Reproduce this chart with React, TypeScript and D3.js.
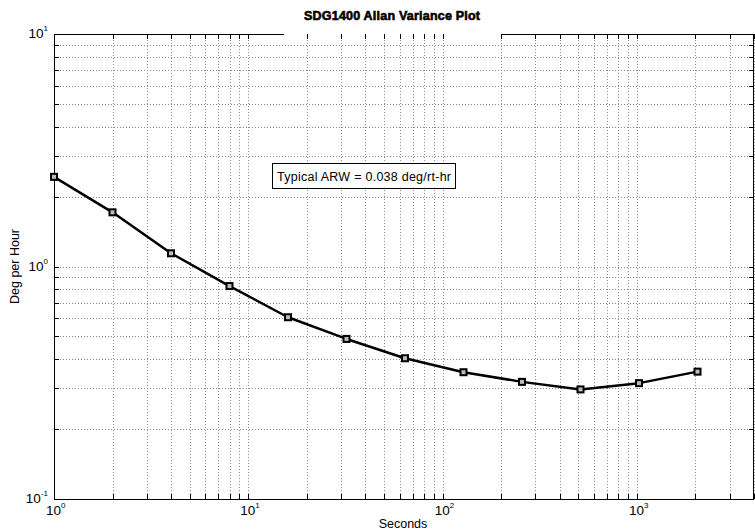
import React, { useEffect, useRef } from "react";
import * as d3 from "d3";

const seconds = [1, 2, 4, 8, 16, 32, 64, 128, 256, 512, 1024, 2048];
const degPerHour = [2.43, 1.71, 1.14, 0.824, 0.605, 0.488, 0.403, 0.351, 0.319, 0.296, 0.315, 0.353];
const xDecades = [0, 1, 2, 3];
const yDecades = [-1, 0, 1];
const titleText = "SDG1400 Allan Variance Plot";
const noteText = "Typical ARW = 0.038 deg/rt-hr";

const W = 755;
const H = 531;
const m = { left: 54, top: 34, right: 1, bottom: 32 };
const font = "Arial, 'Liberation Sans', Helvetica, sans-serif";

const drawChart = (svgEl: SVGSVGElement) => {
  const svg = d3.select(svgEl);
  svg.selectAll("*").remove();

  const x = d3.scaleLog().domain([1, 4000]).range([m.left, W - m.right]);
  const y = d3.scaleLog().domain([0.1, 10]).range([H - m.bottom, m.top]);
  const [x0, x1] = x.range();
  const [y0, y1] = y.range(); // y0 bottom, y1 top

  svg.append("rect").attr("width", W).attr("height", H).attr("fill", "#fff");

  // tick values (major + minor)
  const xTicks: number[] = [];
  for (let d = 0; d <= 3; d++) for (let k = 1; k <= 9; k++) {
    const v = k * Math.pow(10, d);
    if (v <= 4000) xTicks.push(v);
  }
  const yTicks: number[] = [];
  for (let d = -1; d <= 0; d++) for (let k = 1; k <= 9; k++) yTicks.push(k * Math.pow(10, d));
  yTicks.push(10);

  const grid = svg.append("g").attr("stroke", "#8a8a8a").attr("stroke-dasharray", "1 2").attr("stroke-width", 1);
  grid.selectAll(".gx").data(xTicks.filter((v) => v > 1)).enter().append("line")
    .attr("x1", (d) => Math.round(x(d)) + 0.5).attr("x2", (d) => Math.round(x(d)) + 0.5)
    .attr("y1", y1).attr("y2", y0);
  grid.selectAll(".gy").data(yTicks.filter((v) => v > 0.1 && v < 10)).enter().append("line")
    .attr("y1", (d) => Math.round(y(d)) + 0.5).attr("y2", (d) => Math.round(y(d)) + 0.5)
    .attr("x1", x0).attr("x2", x1);

  // box, with the top border broken behind the title
  const box = svg.append("g").attr("stroke", "#000").attr("stroke-width", 1).attr("fill", "none");
  box.append("line").attr("x1", x0 + 0.5).attr("x2", x0 + 0.5).attr("y1", y1).attr("y2", y0 + 0.5);
  box.append("line").attr("x1", x1 - 0.5).attr("x2", x1 - 0.5).attr("y1", y1).attr("y2", y0 + 0.5);
  box.append("line").attr("x1", x0).attr("x2", x1).attr("y1", y0 + 0.5).attr("y2", y0 + 0.5);
  box.append("line").attr("x1", x0).attr("x2", 284).attr("y1", y1 + 0.5).attr("y2", y1 + 0.5);
  box.append("line").attr("x1", 502).attr("x2", x1).attr("y1", y1 + 0.5).attr("y2", y1 + 0.5);

  // inward ticks on all sides
  const tl = 5;
  const ticks = svg.append("g").attr("stroke", "#000").attr("stroke-width", 1);
  xTicks.forEach((v) => {
    const px = Math.round(x(v)) + 0.5;
    ticks.append("line").attr("x1", px).attr("x2", px).attr("y1", y0).attr("y2", y0 - tl);
    ticks.append("line").attr("x1", px).attr("x2", px).attr("y1", y1).attr("y2", y1 + tl);
  });
  yTicks.forEach((v) => {
    const py = Math.round(y(v)) + 0.5;
    ticks.append("line").attr("y1", py).attr("y2", py).attr("x1", x0).attr("x2", x0 + tl);
    ticks.append("line").attr("y1", py).attr("y2", py).attr("x1", x1).attr("x2", x1 - tl);
  });

  // tick labels
  const labels = svg.append("g").attr("font-family", font).attr("fill", "#000");
  xDecades.forEach((d) => {
    const t = labels.append("text").attr("x", x(Math.pow(10, d)) - 8).attr("y", y0 + 16).attr("font-size", 13.5);
    t.append("tspan").text("10");
    t.append("tspan").attr("dy", -7).attr("font-size", 8).text(String(d));
  });
  yDecades.forEach((d) => {
    const t = labels.append("text").attr("x", x0 - 6).attr("y", y(Math.pow(10, d)) + 4)
      .attr("font-size", 13.5).attr("text-anchor", "end");
    t.append("tspan").text("10");
    t.append("tspan").attr("dy", -7).attr("font-size", 8).text(String(d));
  });

  // data line
  const line = d3.line<number>().x((_, i) => x(seconds[i])).y((d) => y(d));
  svg.append("path").datum(degPerHour).attr("d", line).attr("fill", "none")
    .attr("stroke", "#000").attr("stroke-width", 2.5).attr("stroke-linejoin", "round");
  svg.append("g").selectAll("rect").data(degPerHour).enter().append("rect")
    .attr("x", (_, i) => x(seconds[i]) - 3).attr("y", (d) => y(d) - 3)
    .attr("width", 6).attr("height", 6)
    .attr("fill", "#bbb").attr("stroke", "#000").attr("stroke-width", 2);

  // annotation box
  const note = svg.append("g");
  note.append("rect").attr("x", 272.5).attr("y", 163.5).attr("width", 183).attr("height", 25)
    .attr("fill", "#fff").attr("stroke", "#000").attr("stroke-width", 1);
  note.append("text").attr("x", 277).attr("y", 181).attr("font-family", font).attr("font-size", 12.5)
    .attr("textLength", 174).text(noteText);

  // title and axis labels
  svg.append("text").attr("x", 392).attr("y", 20).attr("text-anchor", "middle")
    .attr("font-family", font).attr("font-size", 12.5).attr("font-weight", "bold")
    .attr("stroke", "#000").attr("stroke-width", 0.6).attr("textLength", 176).text(titleText);
  svg.append("text").attr("x", 403).attr("y", 528).attr("text-anchor", "middle")
    .attr("font-family", font).attr("font-size", 12.5).text("Seconds");
  svg.append("text").attr("transform", `translate(19, ${(y0 + y1) / 2}) rotate(-90)`)
    .attr("text-anchor", "middle").attr("font-family", font).attr("font-size", 12.5).text("Deg per Hour");
};

const App = () => {
  const ref = useRef<SVGSVGElement>(null);
  useEffect(() => {
    if (ref.current) drawChart(ref.current);
  }, []);
  return (
    <svg ref={ref} width={W} height={H} style={{ position: "fixed", left: 0, top: 0, display: "block" }}></svg>
  );
};

export default App;
